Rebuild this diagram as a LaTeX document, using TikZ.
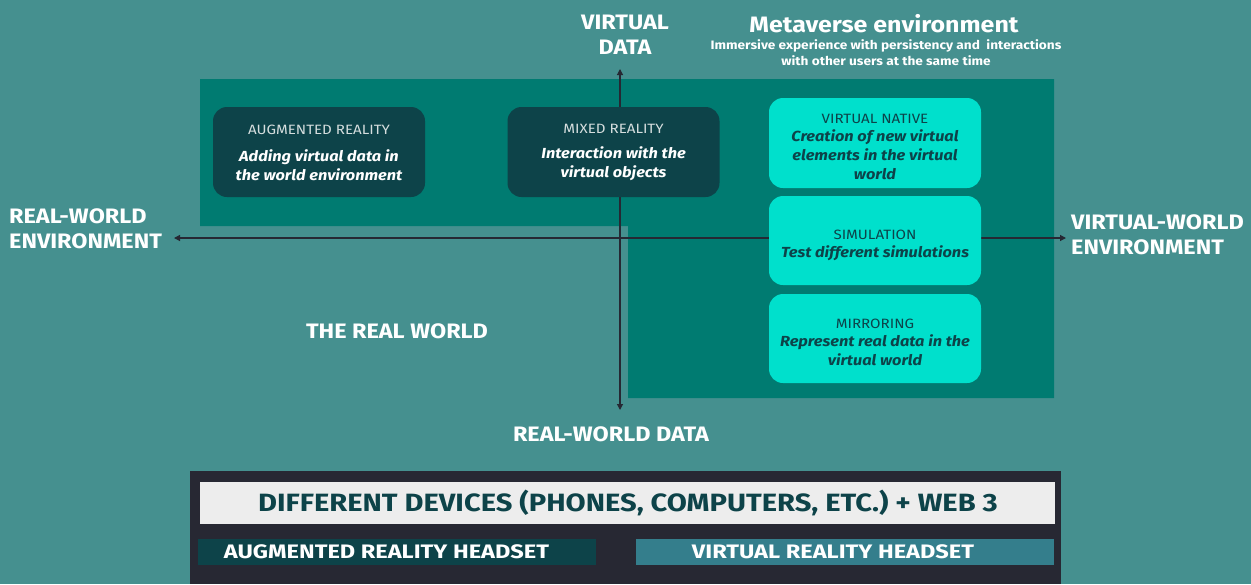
\documentclass[tikz,border=0pt]{standalone}
\usepackage{fontspec}
\setmainfont{Fira Sans}[FakeStretch=1.12]
\usetikzlibrary{arrows.meta}
\definecolor{bgc}{HTML}{45908F}
\definecolor{zonec}{HTML}{007B71}
\definecolor{darkbox}{HTML}{0D4349}
\definecolor{cyanbox}{HTML}{00E0CC}
\definecolor{axisc}{HTML}{262833}
\definecolor{panelc}{HTML}{272833}
\definecolor{lightbar}{HTML}{EDEDED}
\definecolor{vrbar}{HTML}{347E8C}
\definecolor{titlegrey}{HTML}{D5DEDE}
\tikzset{
  axisline/.style={draw=axisc, line width=1.2pt, -{Triangle[length=6pt,width=6pt]}},
  cardshape/.style={rounded corners=14pt, minimum width=212pt, minimum height=90pt, inner sep=0pt},
  darkcard/.style={cardshape, fill=darkbox},
  cyancard/.style={cardshape, fill=cyanbox},
  cardtext/.style={align=center, inner sep=0pt, font=\fontsize{14.6}{19}\selectfont},
  biglabel/.style={text=white, font=\fontsize{20.9}{25}\selectfont\bfseries, inner sep=0pt},
  bartext/.style={font=\fontsize{19.5}{22}\selectfont\bfseries, inner sep=0pt},
}
\newcommand{\cardtitle}[1]{{\fontsize{13.5}{17}\selectfont #1}}
\newcommand{\bi}[1]{{\bfseries\itshape #1}}
\begin{document}
\begin{tikzpicture}[x=1pt,y=-1pt]
\fill[bgc] (0,0) rectangle (1251,584);
\useasboundingbox (0,0) rectangle (1251,584);
% zone
\fill[zonec] (200,79) -- (1054,79) -- (1054,398) -- (628,398) -- (628,226) -- (200,226) -- cycle;
% axes
\coordinate (o) at (620,238);
\coordinate (axl) at (174,238);
\coordinate (axr) at (1066,238);
\coordinate (axt) at (620,69);
\coordinate (axb) at (620,410);
\draw[axisline] (o) -- (axl);
\draw[axisline] (o) -- (axr);
\draw[axisline] (o) -- (axt);
\draw[axisline] (o) -- (axb);
% cards
\node[darkcard] (ar) at (319,152) {};
\node[cardtext, text=white] (art) at ([yshift=-0.5pt]ar.center) {{\color{titlegrey}\cardtitle{AUGMENTED REALITY}}\\[8pt]\bi{Adding virtual data in}\\\bi{the world environment}};
\node[darkcard] (mr) at (613.5,152) {};
\node[cardtext, text=white] (mrt) at ([yshift=-0.5pt]mr.center) {{\color{titlegrey}\cardtitle{MIXED REALITY}}\\[6pt]\bi{Interaction with the}\\\bi{virtual objects}};
\node[cyancard] (vn) at (875,143) {};
\node[cardtext, text=darkbox] (vnt) at ([yshift=-4pt]vn.center) {\cardtitle{VIRTUAL NATIVE}\\[-1pt]\bi{Creation of new virtual}\\\bi{elements in the virtual}\\\bi{world}};
\node[cyancard, minimum height=89pt] (sim) at (875,240.5) {};
\node[cardtext, text=darkbox] (simt) at ([yshift=-4.5pt]sim.center) {\cardtitle{SIMULATION}\\[-1pt]\bi{Test different simulations}};
\node[cyancard, minimum height=89pt] (mir) at (875,338.5) {};
\node[cardtext, text=darkbox] (mirt) at ([yshift=-3.5pt]mir.center) {\cardtitle{MIRRORING}\\[-1pt]\bi{Represent real data in the}\\\bi{virtual world}};
% labels
\node[biglabel, align=center] (vd) at (625,35) {VIRTUAL\\DATA};
\node[text=white, font=\fontsize{22.3}{26}\selectfont\bfseries, inner sep=0pt] (meta) at (884,24) {Metaverse environment};
\node[text=white, font=\fontsize{12.2}{16}\selectfont\bfseries, align=center, inner sep=0pt] (metasub) at (886,53) {Immersive experience with persistency and\ \ interactions\\with other users at the same time};
\node[biglabel, align=left, anchor=west] (rwe) at (9,228.5) {REAL-WORLD\\ENVIRONMENT};
\node[biglabel, align=left, anchor=west] (vwe) at (1071,234.5) {VIRTUAL-WORLD\\ENVIRONMENT};
\node[biglabel] (trw) at (397,331) {THE REAL WORLD};
\node[biglabel] (rwd) at (611,434) {REAL-WORLD DATA};
% bottom panel
\fill[panelc] (190,471) rectangle (1061,584);
\node[fill=lightbar, minimum width=855pt, minimum height=42pt, inner sep=0pt] (dev) at (627.5,503) {};
\node[text=darkbox, font=\fontsize{25}{26}\selectfont\bfseries, inner sep=0pt] (devt) at (628,502.5) {\scalebox{1.04}[1]{DIFFERENT DEVICES (PHONES, COMPUTERS, ETC.) + WEB 3}};
\node[fill=darkbox, minimum width=398pt, minimum height=26pt, inner sep=0pt] (arh) at (397,552) {};
\node[text=white, bartext] (arht) at (386.5,552) {\scalebox{1.08}[1]{AUGMENTED REALITY HEADSET}};
\node[fill=vrbar, minimum width=418pt, minimum height=26pt, inner sep=0pt] (vrh) at (845,552) {};
\node[text=white, bartext] (vrht) at (833,552) {\scalebox{1.08}[1]{VIRTUAL REALITY HEADSET}};
\end{tikzpicture}
\end{document}
